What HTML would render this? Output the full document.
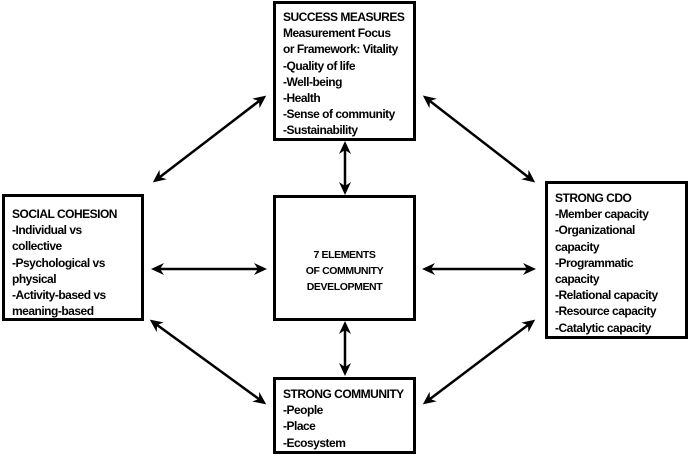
<!DOCTYPE html>
<html><head><meta charset="utf-8"><style>
body{margin:0;width:690px;height:455px;background:#fff;position:relative;overflow:hidden;font-family:"Liberation Sans",Arial,sans-serif;}
.b{position:absolute;border:3px solid #000;box-sizing:border-box;font-weight:bold;font-size:12px;line-height:16.2px;letter-spacing:-0.5px;color:#000;padding:5px 0 0 7px;white-space:nowrap}
svg{position:absolute;left:0;top:0}
</style></head><body>
<svg width="690" height="455" viewBox="0 0 690 455">
<defs><marker id="a" markerWidth="13" markerHeight="12" refX="9" refY="6" orient="auto-start-reverse" markerUnits="userSpaceOnUse"><path d="M0,0 L13,6 L0,12 L4,6 Z" fill="#000"/></marker></defs>
<g stroke="#000" stroke-width="2.5" marker-start="url(#a)" marker-end="url(#a)">
<line x1="156" y1="180" x2="263" y2="98"/>
<line x1="426" y1="98" x2="532" y2="180"/>
<line x1="345" y1="145" x2="345" y2="191"/>
<line x1="155" y1="269" x2="263" y2="269"/>
<line x1="426" y1="269" x2="532" y2="269"/>
<line x1="345" y1="325" x2="345" y2="372"/>
<line x1="153" y1="322" x2="263" y2="402"/>
<line x1="426" y1="402" x2="532" y2="322"/>
</g>
</svg>
<div class="b" style="left:273px;top:1px;width:143px;height:140px">SUCCESS MEASURES<br>Measurement Focus<br>or Framework: Vitality<br>-Quality of life<br>-Well-being<br>-Health<br>-Sense of community<br>-Sustainability</div>
<div class="b" style="left:2px;top:194px;width:142px;height:127px;padding-top:9px">SOCIAL COHESION<br>-Individual vs<br>collective<br>-Psychological vs<br>physical<br>-Activity-based vs<br>meaning-based</div>
<div class="b" style="left:273px;top:195px;width:143px;height:126px;padding:49px 0 0 0;text-align:center;font-size:10.5px;line-height:16px;letter-spacing:-0.4px">7 ELEMENTS<br>OF COMMUNITY<br>DEVELOPMENT</div>
<div class="b" style="left:545px;top:181px;width:143px;height:158px;padding-top:6px">STRONG CDO<br>-Member capacity<br>-Organizational<br>capacity<br>-Programmatic<br>capacity<br>-Relational capacity<br>-Resource capacity<br>-Catalytic capacity</div>
<div class="b" style="left:273px;top:377px;width:143px;height:77px;padding-top:6px">STRONG COMMUNITY<br>-People<br>-Place<br>-Ecosystem</div>
</body></html>
